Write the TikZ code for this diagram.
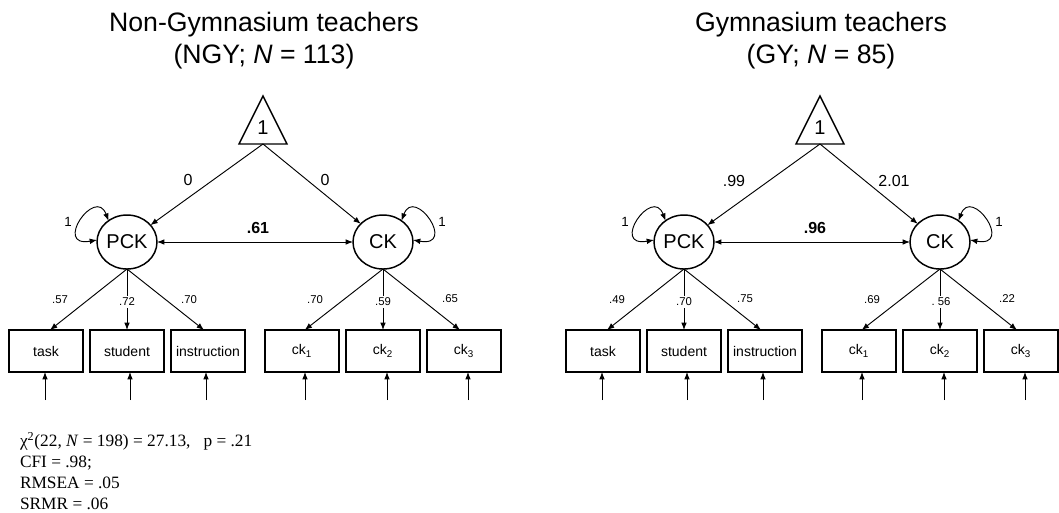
\documentclass[tikz,border=0pt]{standalone}
\usepackage{fontspec}
\setmainfont{Liberation Sans}
\newfontfamily\fitfont{Liberation Serif}
\usetikzlibrary{arrows.meta,shapes.geometric}

\tikzset{
  every node/.style={inner sep=0pt, outer sep=0pt},
  lv/.style={ellipse, draw, line width=1.1pt, minimum width=45pt, minimum height=40.5pt,
             font=\fontsize{15}{18}\selectfont},
  ind/.style={rectangle, draw, line width=1.4pt, minimum width=56pt, minimum height=31.5pt,
              font=\fontsize{10.5}{12}\selectfont},
  tip/.tip={Latex[length=5.5pt,width=4.2pt]},
  reg/.style={-tip, line width=0.7pt},
  dbl/.style={tip-tip, line width=0.7pt},
  tri/.style={draw, line width=1.1pt, line join=miter},
  one/.style={font=\fontsize{15}{18}\selectfont},
  lbl/.style={font=\fontsize{12}{14}\selectfont},
  cov/.style={font=\bfseries\fontsize{12}{14}\selectfont},
  vlab/.style={font=\fontsize{10}{12}\selectfont},
  ld/.style={font=\fontsize{8.5}{10}\selectfont},
  ldw/.style={ld, fill=white, inner sep=1.5pt},
  ttl/.style={font=\fontsize{20}{24}\selectfont, anchor=base},
  fit/.style={font=\fitfont\fontsize{13}{15.75}\selectfont, anchor=base west},
}

% One measurement model: #1 name prefix, #2 horizontal offset, #3 x of the mean triangle
\newcommand\semmodel[3]{%
  \draw[tri] (#3,-96) -- (#3+24,-144) -- (#3-24,-144) -- cycle;
  \node[one] (#1one) at (#3,-128) {1};
  \coordinate (#1base) at (#3,-144);
  \node[lv] (#1PCK) at (#2+127,-242) {PCK};
  \node[lv] (#1CK)  at (#2+383,-242) {CK};
  \node[ind] (#1task) at (#2+46,-351)  {task};
  \node[ind] (#1stud) at (#2+127,-351) {student};
  \node[ind] (#1inst) at (#2+208,-351) {instruction};
  \node[ind] (#1ckA)  at (#2+302,-351) {ck\textsubscript{1}};
  \node[ind] (#1ckB)  at (#2+383,-351) {ck\textsubscript{2}};
  \node[ind] (#1ckC)  at (#2+464,-351) {ck\textsubscript{3}};
  % means
  \draw[reg] (#1base) -- (#1PCK);
  \draw[reg] (#1base) -- (#1CK);
  % variances (self loops) and covariance
  \draw[dbl] ([shift={(-18.5,21.3)}]#1PCK.center)
     .. controls ([shift={(-31.5,56.3)}]#1PCK.center) and ([shift={(-74.3,-5.8)}]#1PCK.center)
     .. ([shift={(-30,2)}]#1PCK.center);
  \draw[dbl] ([shift={(18.5,21.3)}]#1CK.center)
     .. controls ([shift={(31.5,56.3)}]#1CK.center) and ([shift={(74.3,-5.8)}]#1CK.center)
     .. ([shift={(30,2)}]#1CK.center);
  \draw[dbl] (#1PCK) -- (#1CK);
  % loadings
  \draw[reg] (#1PCK.south) -- ([xshift=3pt]#1task.north);
  \draw[reg] (#1PCK.south) -- (#1stud.north);
  \draw[reg] (#1PCK.south) -- ([xshift=-3pt]#1inst.north);
  \draw[reg] (#1CK.south) -- ([xshift=2pt]#1ckA.north);
  \draw[reg] (#1CK.south) -- (#1ckB.north);
  \draw[reg] (#1CK.south) -- ([xshift=-3pt]#1ckC.north);
  % residuals
  \foreach \b/\s in {task/-0.75,stud/2.25,inst/-1.5,ckA/2.25,ckB/3,ckC/3}{
    \coordinate (#1e\b) at ([xshift=\s pt,yshift=-21pt]#1\b.south);
    \draw[reg] (#1e\b) -- (#1\b.south -| #1e\b);
  }
}

\begin{document}
\begin{tikzpicture}[x=0.75pt,y=0.75pt]
\useasboundingbox (0,0) rectangle (1059,-512);

% Non-Gymnasium teachers
\node[ttl] (tL1) at (264,-31) {Non-Gymnasium teachers};
\node[ttl] (tL2) at (264,-63) {(NGY; \textit{N} = 113)};
\semmodel{L}{0}{263}
\node[lbl] (Lm1) at (188,-180) {0};
\node[lbl] (Lm2) at (325,-180) {0};
\node[vlab] (Lv1) at (68,-222) {1};
\node[vlab] (Lv2) at (442,-222) {1};
\node[cov] (Lc) at (258,-228) {.61};
\node[ld]  (Ll1) at (60,-300)  {.57};
\node[ldw] (Ll2) at (127,-302) {.72};
\node[ld]  (Ll3) at (189,-300) {.70};
\node[ld]  (Ll4) at (315,-300) {.70};
\node[ldw] (Ll5) at (383,-302) {.59};
\node[ld]  (Ll6) at (450,-299) {.65};

% Gymnasium teachers
\node[ttl] (tR1) at (821,-31) {Gymnasium teachers};
\node[ttl] (tR2) at (821,-63) {(GY; \textit{N} = 85)};
\semmodel{R}{557}{820}
\node[lbl] (Rm1) at (734,-181) {.99};
\node[lbl] (Rm2) at (894,-181) {2.01};
\node[vlab] (Rv1) at (625,-222) {1};
\node[vlab] (Rv2) at (999,-222) {1};
\node[cov] (Rc) at (815,-228) {.96};
\node[ld]  (Rl1) at (617,-300) {.49};
\node[ldw] (Rl2) at (684,-302) {.70};
\node[ld]  (Rl3) at (745,-299) {.75};
\node[ld]  (Rl4) at (872,-300) {.69};
\node[ldw] (Rl5) at (941,-302) {.\ 56};
\node[ld]  (Rl6) at (1007,-299) {.22};

% fit indices
\node[fit] (f1) at (20,-446) {χ\textsuperscript{2}(22, \textit{N} = 198) = 27.13,\hspace{0.75em}p = .21};
\node[fit] (f2) at (20,-467) {CFI = .98;};
\node[fit] (f3) at (20,-488) {RMSEA = .05};
\node[fit] (f4) at (20,-509) {SRMR = .06};
\end{tikzpicture}
\end{document}
